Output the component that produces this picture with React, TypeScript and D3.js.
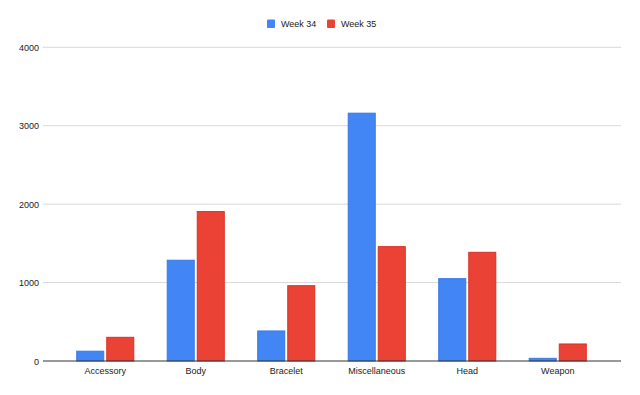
import React from 'react';
import * as d3 from 'd3';

const categories = ['Accessory', 'Body', 'Bracelet', 'Miscellaneous', 'Head', 'Weapon'];
const seriesNames = ['Week 34', 'Week 35'];
const week34 = [125, 1285, 383, 3160, 1050, 34];
const week35 = [302, 1905, 960, 1458, 1386, 217];
const yTicks = [0, 1000, 2000, 3000, 4000];
const colors = ['#4285F4', '#EA4335'];
const strokes = ['#3b78e7', '#d93025'];

const W = 640;
const H = 395;
const FONT = '"Liberation Sans", Arial, sans-serif';

const App = () => {
  const gridLeft = 43;
  const gridRight = 621;

  const x = d3.scaleBand<string>().domain(categories).range([60, 603]).paddingInner(0).paddingOuter(0);
  // two bars of ~28px with a ~2px gap, centred in each category
  const inner = d3.scaleBand<string>().domain(seriesNames).range([0, x.bandwidth()]).paddingInner(0.067).paddingOuter(0.54);
  const y = d3.scaleLinear().domain([0, 4000]).range([361, 47.3]);

  const values = [week34, week35];
  const legendX = [267, 327];

  return (
    <svg width={W} height={H} style={{ position: 'absolute', left: 0, top: 0, background: '#fff' }}>
      <rect width={W} height={H} fill="#fff" />
      {/* legend */}
      <g fontFamily={FONT} fontSize={9} fill="#222">
        {seriesNames.map((s, i) => (
          <g key={s}>
            <rect x={legendX[i]} y={19.5} width={8} height={8.5} rx={1} fill={colors[i]} />
            <text x={legendX[i] + 14} y={27}>{s}</text>
          </g>
        ))}
      </g>
      {/* gridlines + y labels */}
      {yTicks.map((t) => (
        <g key={t}>
          {t !== 0 && <line x1={gridLeft} x2={gridRight} y1={y(t)} y2={y(t)} stroke="#d9d9d9" strokeWidth={1} />}
          <text x={39} y={y(t) + 3.5} textAnchor="end" fontFamily={FONT} fontSize={9} fill="#222">{t}</text>
        </g>
      ))}
      {/* bars */}
      {categories.map((c, ci) => (
        <g key={c} transform={`translate(${x(c)},0)`}>
          {seriesNames.map((s, si) => {
            const v = values[si][ci];
            return (
              <rect
                key={s}
                x={inner(s)! + 0.5}
                y={y(v)}
                width={inner.bandwidth() - 1}
                height={y(0) - y(v)}
                fill={colors[si]}
                stroke={strokes[si]}
                strokeWidth={1}
              />
            );
          })}
        </g>
      ))}
      {/* baseline */}
      <line x1={gridLeft} x2={gridRight} y1={y(0)} y2={y(0)} stroke="#333" strokeWidth={1} />
      {/* x labels */}
      {categories.map((c) => (
        <text key={c} x={x(c)! + x.bandwidth() / 2} y={373.5} textAnchor="middle" fontFamily={FONT} fontSize={9} fill="#222">{c}</text>
      ))}
    </svg>
  );
};

export default App;
